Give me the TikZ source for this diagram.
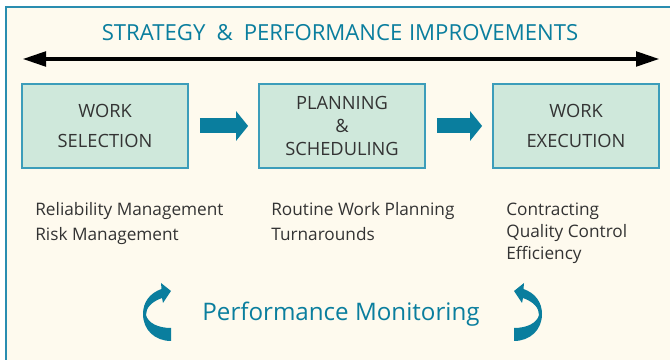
\documentclass[tikz,border=0pt]{standalone}
\usepackage{fontspec}
\setmainfont{Open Sans}
\usetikzlibrary{arrows.meta}

\definecolor{pmteal}{HTML}{0A7E9E}
\definecolor{frameline}{HTML}{2A8DB0}
\definecolor{paper}{HTML}{FEFAEE}
\definecolor{boxfill}{HTML}{CFE8DB}
\definecolor{boxline}{HTML}{3C9DBA}
\definecolor{inkgray}{HTML}{333333}

\begin{document}
\begin{tikzpicture}[
    every node/.style={text=inkgray},
    stagebox/.style={draw=boxline, fill=boxfill, line width=1pt, minimum width=3.32cm, minimum height=1.68cm, align=center, font=\fontsize{10.4}{17}\selectfont},
    tasklist/.style={anchor=base west, inner sep=0pt, align=left, font=\fontsize{9.8}{14.7}\selectfont},
    blockarrow/.style={draw=pmteal, line width=0.3cm, -{Triangle[length=0.24cm, width=0.58cm]}, shorten <=0.22cm, shorten >=0.2cm},
    turnarrow/.pic={
        \fill[pmteal] (0.28,-0.58) .. controls (-0.04,-0.58) and (-0.28,-0.36) .. (-0.28,-0.04)
            .. controls (-0.28,0.20) and (-0.14,0.38) .. (0.09,0.46) -- (0.08,0.58) -- (0.28,0.42)
            -- (0.12,0.18) -- (0.10,0.28) .. controls (-0.12,0.20) and (-0.22,0.08) .. (-0.22,-0.06)
            .. controls (-0.18,-0.22) and (0.02,-0.32) .. (0.28,-0.32) -- cycle;
    }
]

    \useasboundingbox (0,0) rectangle (13.4,7.2);
    \clip (0,0) rectangle (13.4,7.2);

    % panel
    \fill[paper] (0.12,-0.2) rectangle (13.6,7.06);
    \draw[frameline, line width=1.1pt] (0.12,-0.2) -- (0.12,7.06) -- (13.6,7.06);

    % strategy arrow
    \node[text=pmteal, font=\fontsize{12.6}{15}\selectfont, anchor=base] (title) at (6.8,6.39)
        {STRATEGY\hspace{0.5em}\&\hspace{0.5em}PERFORMANCE\hspace{0.3em}IMPROVEMENTS};
    \coordinate (stratleft) at (0.44,6.02);
    \coordinate (stratright) at (13.2,6.02);
    \draw[line width=2.8pt, {Triangle[length=0.48cm, width=0.28cm]}-{Triangle[length=0.48cm, width=0.28cm]}] (stratleft) -- (stratright);

    % three stages
    \node[stagebox] (sel) at (2.1,4.68) {WORK\\SELECTION};
    \node[stagebox, font=\fontsize{10.4}{13.3}\selectfont] (plan) at (6.84,4.68) {PLANNING\\\&\\SCHEDULING};
    \node[stagebox] (exec) at (11.52,4.68) {WORK\\EXECUTION};

    \draw[blockarrow] (sel) -- (plan);
    \draw[blockarrow] (plan) -- (exec);

    % activities under each stage (placed by their last line)
    \node[tasklist] (sellist) at (0.7,2.38) {Reliability Management\\Risk Management};
    \node[tasklist] (planlist) at (5.42,2.38) {Routine Work Planning\\Turnarounds};
    \node[tasklist, font=\fontsize{9.8}{12.8}\selectfont] (execlist) at (10.12,2.0) {Contracting\\Quality Control\\Efficiency};

    % monitoring loop
    \node[text=pmteal, font=\fontsize{13.75}{15}\selectfont, anchor=base] (monitor) at (6.82,0.79) {Performance Monitoring};
    \pic at (3.14,0.96) {turnarrow};
    \pic[xscale=-1] at (10.56,0.96) {turnarrow};

\end{tikzpicture}
\end{document}
